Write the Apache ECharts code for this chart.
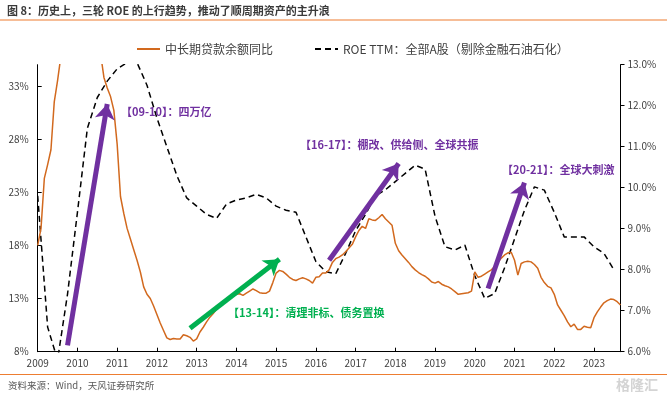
<!DOCTYPE html>
<html><head><meta charset="utf-8">
<script src="https://cdn.jsdelivr.net/npm/echarts@6/dist/echarts.min.js"></script>
<style>html,body{margin:0;padding:0;background:#fff}#c{width:667px;height:398px}</style>
</head><body><div id="c"></div>
<script>
// ---- categories: monthly, 2009-01 .. 2023-09 ----
const firstYear = 2009, lastYear = 2023, lastMonth = 9;
const months = [];
for (let y = firstYear; y <= lastYear; y++) {
  for (let m = 1; m <= 12; m++) {
    if (y === lastYear && m > lastMonth) break;
    months.push(y + '-' + (m < 10 ? '0' + m : m));
  }
}
// ---- series 1: 中长期贷款余额同比 (%), monthly ----
const loanYoY = [
  18.0, 19.6, 24.3, 25.6, 27.0, 31.5, 33.5, 35.8, 38.5, 40.5, 42.0, 43.0,   // 2009
  42.5, 42.0, 41.0, 40.0, 39.0, 38.0, 37.0, 36.0, 33.8, 32.8, 32.0, 30.7,   // 2010
  27.5, 22.6, 21.0, 19.6, 18.6, 17.6, 16.6, 15.5, 14.1, 13.4, 13.0, 12.3,   // 2011
  11.5, 10.7, 10.0, 9.3, 9.15, 9.25, 9.2, 9.2, 9.6, 9.5, 9.35, 9.0,         // 2012
  9.2, 9.85, 10.3, 10.8, 11.25, 11.6, 12.0, 12.35, 12.65, 12.9, 13.05, 13.2,// 2013
  13.4, 13.45, 13.3, 13.5, 13.7, 13.9, 13.75, 13.55, 13.5, 13.5, 13.7, 14.5,// 2014
  15.4, 15.65, 15.55, 15.3, 15.0, 14.8, 14.7, 14.85, 14.95, 14.85, 14.7, 14.45, // 2015
  15.0, 15.05, 15.4, 15.4, 15.7, 16.4, 16.75, 16.9, 17.1, 17.4, 17.75, 18.1,// 2016
  18.8, 19.4, 19.8, 19.6, 20.5, 20.4, 20.35, 20.6, 20.9, 20.5, 20.2, 19.9,  // 2017
  18.2, 17.5, 17.1, 16.75, 16.4, 16.0, 15.7, 15.45, 15.25, 15.1, 14.85, 14.55, // 2018
  14.45, 14.6, 14.35, 14.2, 14.1, 13.9, 13.65, 13.4, 13.45, 13.5, 13.55, 13.7, // 2019
  15.5, 15.0, 15.1, 15.3, 15.5, 15.7, 16.0, 16.4, 16.8, 17.1, 17.3, 17.35, // 2020
  16.6, 15.2, 16.3, 16.45, 16.5, 16.45, 16.2, 15.85, 15.0, 14.5, 14.15, 14.0, // 2021
  13.4, 12.4, 11.9, 11.4, 10.8, 10.35, 10.6, 10.1, 10.1, 10.4, 10.3, 10.25, // 2022
  11.2, 11.75, 12.2, 12.6, 12.8, 12.95, 12.9, 12.7, 12.4                    // 2023
];
// ---- series 2: ROE TTM (%), quarterly, plotted at Jan/Apr/Jul/Oct ----
const roeTTM = [
  9.8, 6.6, 5.8, 7.4, 9.4, 11.45, 12.2, 12.6, 12.9, 13.05,
  13.05, 12.5, 11.7, 11.0, 10.3, 9.75, 9.55, 9.35, 9.25, 9.6,
  9.7, 9.75, 9.84, 9.75, 9.55, 9.45, 9.4, 8.8, 8.2, 7.95,
  7.9, 8.4, 8.95, 9.35, 9.8, 9.95, 10.15, 10.35, 10.55, 10.45,
  9.3, 8.56, 8.48, 8.6, 7.85, 7.3, 7.42, 8.05, 8.75, 9.45,
  10.02, 9.94, 9.4, 8.8, 8.8, 8.8, 8.56, 8.4, 8.0
];
// ---- annotation arrows: [startIndex, startValue(left axis), endIndex, endValue] ----
const arrowPurple = [
  [9.2, 8.6, 20.6, 31.3],
  [88.3, 16.6, 109.3, 25.7],
  [135.6, 13.95, 147.2, 23.9]
];
const arrowGreen = [
  [46, 10.2, 73.0, 16.7]
];
const seriesNames = ['中长期贷款余额同比', 'ROE TTM：全部A股（剔除金融石油石化）'];

const roeData = months.map((m, i) => (i % 3 === 0 && roeTTM[i / 3] !== undefined) ? roeTTM[i / 3] : null);

const PURPLE = '#7030A0', GREEN = '#00B050', ORANGE = '#D2691E';
const FONT = '"Noto Sans CJK SC", "Noto Sans", sans-serif';

function arrowItems(list, color) {
  return list.map(a => [
    { coord: [a[0], a[1]], lineStyle: { color: color, width: 5, type: 'solid' }, itemStyle: { color: color } },
    { coord: [a[2], a[3]], itemStyle: { color: color } }
  ]);
}

const chart = echarts.init(document.getElementById('c'), null, { renderer: 'canvas' });
chart.setOption({
  animation: false,
  textStyle: { fontFamily: FONT },
  grid: { left: 37.7, right: 46.5, top: 64.7, bottom: 46.3, containLabel: false },
  legend: {
    data: seriesNames,
    left: 131, top: 38,
    itemWidth: 23, itemHeight: 14, itemGap: 41,
    itemStyle: { opacity: 0 },
    textStyle: { fontSize: 12, color: '#404040', fontFamily: FONT }
  },
  xAxis: {
    type: 'category', data: months, boundaryGap: false,
    axisLine: { lineStyle: { color: '#000', width: 1 } },
    axisTick: { inside: true, length: 4, lineStyle: { color: '#000' }, interval: (i) => i % 12 === 0 },
    axisLabel: { interval: (i) => i % 12 === 0, formatter: (v) => v.slice(0, 4), color: '#404040', fontSize: 10, margin: 7 },
    splitLine: { show: false }
  },
  yAxis: [
    {
      type: 'value', position: 'left', min: 8, max: 35, interval: 5,
      axisLine: { show: true, lineStyle: { color: '#000' } },
      axisTick: { show: true, inside: true, length: 4, lineStyle: { color: '#000' } },
      axisLabel: { formatter: '{value}%', showMaxLabel: false, color: '#404040', fontSize: 10, margin: 9 },
      splitLine: { show: false }
    },
    {
      type: 'value', position: 'right', min: 6, max: 13, interval: 1,
      axisLine: { show: true, lineStyle: { color: '#000' } },
      axisTick: { show: true, inside: false, length: 4, lineStyle: { color: '#000' } },
      axisLabel: { formatter: (v) => v.toFixed(1) + '%', color: '#404040', fontSize: 10, margin: 7 },
      splitLine: { show: false }
    }
  ],
  series: [
    {
      name: seriesNames[0], type: 'line', yAxisIndex: 0, data: loanYoY,
      showSymbol: false, symbol: 'none', z: 3,
      lineStyle: { color: ORANGE, width: 1.5 }, itemStyle: { color: ORANGE },
      markLine: {
        silent: true, animation: false,
        symbol: ['none', 'arrow'], symbolSize: 15,
        label: { show: false },
        emphasis: { disabled: true },
        data: arrowItems(arrowPurple, PURPLE).concat(arrowItems(arrowGreen, GREEN))
      }
    },
    {
      name: seriesNames[1], type: 'line', yAxisIndex: 1, data: roeData,
      connectNulls: true, showSymbol: false, symbol: 'none', z: 2,
      lineStyle: { color: '#000', width: 1.5, type: [6, 4] }, itemStyle: { color: '#000' }
    }
  ],
  graphic: [
    { type: 'text', x: 7, y: 11, style: { text: '图 8：历史上，三轮 ROE 的上行趋势，推动了顺周期资产的主升浪', font: 'bold 11px ' + FONT, fill: '#3a3a3a', verticalAlign: 'middle' } },
    { type: 'line', shape: { x1: 0, y1: 20, x2: 667, y2: 20 }, style: { stroke: '#ED7D31', lineWidth: 1.2 } },
    { type: 'line', shape: { x1: 0, y1: 374.5, x2: 667, y2: 374.5 }, style: { stroke: '#ED7D31', lineWidth: 1.2 } },
    { type: 'text', x: 8, y: 385, style: { text: '资料来源：Wind，天风证券研究所', font: '9.5px ' + FONT, fill: '#595959', verticalAlign: 'middle' } },
    { type: 'text', x: 121, y: 112, z: 10, style: { text: '【09-10】：四万亿', font: 'bold 11px ' + FONT, fill: PURPLE, verticalAlign: 'middle' } },
    { type: 'text', x: 300, y: 145, z: 10, style: { text: '【16-17】：棚改、供给侧、全球共振', font: 'bold 11px ' + FONT, fill: PURPLE, verticalAlign: 'middle' } },
    { type: 'text', x: 502, y: 170, z: 10, style: { text: '【20-21】：全球大刺激', font: 'bold 11px ' + FONT, fill: PURPLE, verticalAlign: 'middle' } },
    { type: 'text', x: 228, y: 313, z: 10, style: { text: '【13-14】：清理非标、债务置换', font: 'bold 11px ' + FONT, fill: GREEN, verticalAlign: 'middle' } },
    { type: 'text', x: 616, y: 385, style: { text: '格隆汇', font: 'bold 14px ' + FONT, fill: '#d4d4d4', verticalAlign: 'middle' } }
  ]
});
</script>
</body></html>
